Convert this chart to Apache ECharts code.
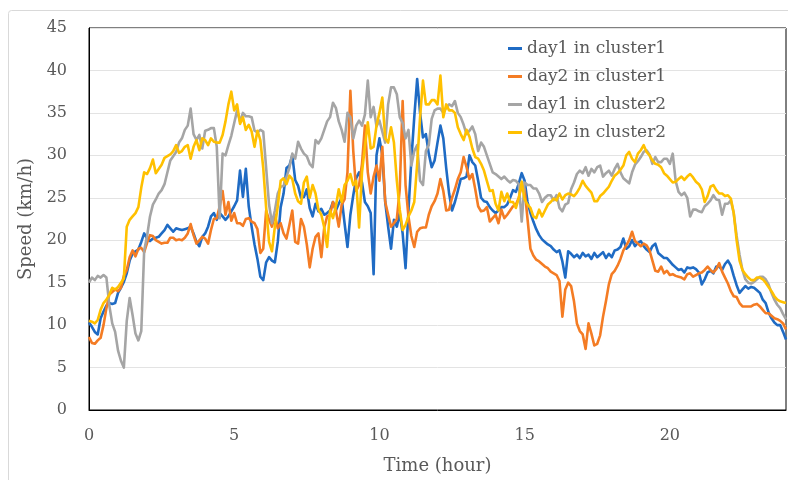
<!DOCTYPE html>
<html>
<head>
<meta charset="utf-8">
<script src="https://cdn.jsdelivr.net/npm/echarts@6/dist/echarts.min.js"></script>
<style>
  html, body { margin: 0; padding: 0; background: #fff; }
  #chart { width: 788px; height: 480px; }
</style>
</head>
<body>
<div id="chart"></div>
<script>
// Sampling step of the speed records, in hours (one reading every 6 minutes)
const STEP_HOURS = 0.1;

const seriesNames = ['day1 in cluster1', 'day2 in cluster1', 'day1 in cluster2', 'day2 in cluster2'];
const xTicks = [0, 5, 10, 15, 20];
const yTicks = [0, 5, 10, 15, 20, 25, 30, 35, 40, 45];

// Speeds in km/h, one row per hour (10 readings), last value at 24:00
const day1Cluster1 = [
  10.3, 9.8, 9.2, 8.9, 10.8, 11.6, 12.3, 12.6, 12.5, 12.6,
  13.8, 14.4, 15.1, 16.1, 17.6, 18.4, 18.7, 18.9, 19.8, 20.8,
  20.2, 19.9, 20.2, 20.3, 20.4, 20.8, 21.2, 21.8, 21.4, 21.0,
  21.4, 21.3, 21.2, 21.3, 21.4, 21.6, 20.8, 19.8, 19.3, 20.4,
  20.8, 21.6, 22.8, 23.2, 22.4, 23.2, 22.8, 22.4, 22.8, 23.4,
  24.0, 24.7, 28.2, 25.1, 28.4, 24.0, 21.6, 19.5, 17.8, 15.7,
  15.3, 17.4, 18.0, 17.6, 17.4, 19.8, 23.9, 25.5, 28.5, 28.8,
  30.0, 27.1, 26.4, 25.0, 25.1, 26.0, 23.8, 22.8, 24.3, 23.4,
  23.7, 23.0, 23.2, 23.5, 24.5, 23.5, 24.3, 25.0, 22.0, 19.2,
  23.0, 25.3, 27.3, 28.0, 26.8, 24.5, 24.0, 23.2, 16.0, 30.0,
  32.0, 30.0, 24.5, 21.6, 19.0, 22.4, 21.6, 23.2, 20.8, 16.7,
  23.5, 29.5, 34.5, 39.0, 35.0, 32.1, 32.5, 30.2, 28.6, 29.4,
  31.5, 33.5, 32.0, 28.5, 25.5, 23.5, 24.5, 25.8, 27.2, 27.3,
  27.5, 30.0, 29.2, 28.8, 27.0, 25.0, 24.6, 24.5, 23.9, 23.5,
  23.2, 23.5, 23.9, 23.9, 24.2, 25.0, 25.9, 25.7, 26.7, 27.9,
  27.0, 24.5, 23.2, 22.2, 21.3, 20.6, 20.1, 19.8, 19.5, 19.3,
  18.9, 18.6, 18.8, 17.5, 15.6, 18.7, 18.4, 18.0, 18.3, 17.9,
  18.5, 18.1, 18.3, 17.8, 18.5, 18.0, 18.3, 18.6, 17.9, 18.4,
  18.0, 18.8, 18.9, 19.2, 20.2, 19.0, 19.3, 20.0, 19.3, 19.7,
  19.9, 19.3, 18.9, 18.6, 19.3, 19.6, 18.5, 18.2, 17.9, 17.9,
  17.5, 17.1, 16.8, 16.5, 16.6, 16.2, 16.8, 16.7, 16.8, 16.6,
  16.2, 14.8, 15.4, 16.2, 16.4, 16.1, 16.9, 16.9, 16.5, 17.2,
  17.6, 17.0, 15.8, 14.7, 13.8, 14.2, 14.6, 14.3, 14.5, 14.4,
  14.1, 13.8, 13.0, 12.6, 11.5, 10.8, 10.3, 10.0, 10.0, 9.2,
  8.3
];

const day2Cluster1 = [
  8.6, 7.9, 7.8, 8.2, 8.5, 10.0, 12.0, 13.6, 13.9, 14.2,
  14.0, 14.4, 15.8, 16.5, 18.0, 18.8, 18.1, 19.0, 19.1, 18.6,
  19.7, 20.6, 20.5, 20.0, 19.8, 19.6, 19.7, 19.7, 20.3, 20.3,
  20.0, 20.1, 20.0, 20.3, 20.8, 21.9, 20.6, 19.6, 20.0, 20.4,
  20.2, 19.6, 21.2, 22.5, 22.6, 24.0, 25.8, 23.0, 24.5, 22.3,
  23.2, 22.0, 22.0, 21.7, 22.5, 22.6, 22.2, 22.0, 21.3, 18.5,
  19.0, 23.5, 22.4, 21.6, 23.0, 21.4, 22.0, 20.8, 20.2, 21.8,
  23.5, 19.8, 19.6, 22.5, 21.6, 19.5, 16.8, 19.0, 20.4, 20.8,
  18.0, 21.5, 22.8, 23.0, 24.5, 23.5, 21.6, 24.2, 24.8, 28.0,
  37.6, 30.5, 25.8, 26.5, 29.0, 33.5, 28.0, 25.5, 27.5, 28.8,
  27.0, 31.0, 24.5, 23.0, 21.6, 22.0, 22.5, 26.0, 36.4, 26.5,
  22.8, 20.5, 19.2, 21.0, 21.4, 21.5, 21.5, 23.0, 24.0, 24.6,
  25.5, 27.2, 25.8, 23.5, 23.6, 25.0, 26.0, 27.2, 28.0, 29.8,
  28.6, 27.2, 27.8, 26.0, 24.0, 23.4, 23.5, 23.9, 22.2, 22.6,
  23.0, 22.0, 23.6, 22.6, 23.0, 23.5, 24.0, 24.2, 25.0, 26.5,
  26.0, 22.5, 19.0, 18.2, 17.7, 17.5, 17.2, 16.9, 16.7, 16.3,
  16.1, 15.9, 15.2, 11.0, 14.2, 15.0, 14.6, 12.8, 10.2, 9.3,
  8.9, 7.2, 10.2, 9.0, 7.6, 7.8, 8.8, 11.0, 12.8, 14.8,
  16.0, 16.4, 17.0, 17.8, 18.8, 19.4, 20.0, 21.0, 19.9, 19.6,
  19.3, 19.6, 19.4, 18.8, 17.6, 16.4, 16.3, 16.9, 16.1, 16.4,
  15.9, 16.0, 15.8, 15.7, 15.6, 15.4, 16.0, 16.1, 15.7, 15.9,
  16.1, 16.2, 16.5, 16.9, 16.5, 16.2, 16.6, 17.3, 16.3, 15.6,
  14.9, 14.0, 13.4, 13.3, 12.6, 12.2, 12.2, 12.2, 12.2, 12.4,
  12.5, 12.2, 11.8, 11.4, 11.4, 11.1, 10.8, 10.7, 10.5, 10.2,
  9.5
];

const day1Cluster2 = [
  15.0, 15.6, 15.3, 15.8, 15.6, 15.9, 15.6, 12.3, 10.2, 9.2,
  7.0, 5.8, 5.0, 10.5, 13.2, 11.2, 9.0, 8.2, 9.3, 18.8,
  20.5, 22.8, 24.2, 24.8, 25.5, 25.9, 26.6, 28.0, 29.4, 29.9,
  30.4, 31.5, 32.0, 33.0, 33.5, 35.5, 32.5, 31.8, 32.4, 30.8,
  32.9, 33.0, 33.2, 33.2, 31.0, 22.6, 30.2, 30.0, 31.2, 32.3,
  33.8, 35.3, 34.0, 35.0, 34.6, 34.6, 34.5, 32.9, 32.7, 33.0,
  32.8, 28.5, 24.2, 22.0, 23.5, 25.5, 26.3, 26.4, 27.5, 28.5,
  30.2, 29.6, 31.6, 30.8, 30.2, 29.9, 29.0, 28.6, 31.8, 31.4,
  32.0, 33.0, 34.0, 34.5, 36.2, 35.6, 34.0, 33.0, 31.6, 35.0,
  34.5, 32.0, 33.5, 34.1, 33.5, 34.8, 38.8, 34.5, 35.7, 33.4,
  34.1, 32.8, 31.5, 36.0, 38.0, 38.0, 37.2, 34.5, 33.8, 32.0,
  33.0, 28.8, 30.5, 31.2, 27.0, 26.5, 30.5, 31.2, 34.3, 35.3,
  35.5, 35.5, 35.0, 35.6, 36.0, 35.8, 36.4, 35.0, 34.5, 33.6,
  32.5, 32.9, 33.4, 32.5, 30.5, 31.5, 31.0, 30.0, 29.0, 28.0,
  27.8, 27.5, 27.2, 27.5, 27.1, 26.8, 27.1, 27.0, 26.6, 22.2,
  26.8, 26.5, 26.5, 26.1, 26.1, 25.5, 24.5, 25.0, 25.3, 25.3,
  24.7, 25.3, 23.8, 23.4, 24.2, 24.4, 26.0, 26.8, 27.8, 28.2,
  27.9, 28.6, 27.6, 28.4, 28.0, 28.6, 28.8, 27.5, 27.9, 28.2,
  27.6, 28.4, 29.0, 28.0, 27.3, 27.0, 26.7, 28.0, 28.9, 29.3,
  29.8, 30.4, 30.6, 30.1, 29.0, 29.8, 29.2, 29.2, 29.6, 29.6,
  29.0, 30.2, 27.0, 25.7, 25.3, 25.6, 25.0, 22.8, 23.6, 23.6,
  23.4, 23.3, 24.0, 24.3, 24.7, 25.3, 24.8, 24.7, 23.0, 24.3,
  24.3, 24.7, 23.2, 20.5, 18.3, 16.5, 15.4, 15.0, 14.9, 15.1,
  15.4, 15.7, 15.7, 15.4, 14.8, 13.8, 13.0, 12.4, 12.0, 11.3,
  10.7
];

const day2Cluster2 = [
  10.5, 10.4, 10.2, 10.6, 11.8, 12.6, 13.0, 13.6, 14.4, 14.2,
  14.5, 15.0, 15.5, 21.6, 22.4, 22.8, 23.2, 23.9, 26.2, 28.0,
  27.8, 28.5, 29.5, 27.9, 28.4, 28.9, 29.7, 29.9, 30.1, 30.5,
  31.2, 30.3, 30.5, 31.0, 31.2, 29.6, 31.0, 31.8, 30.6, 32.0,
  31.8, 31.2, 32.0, 31.6, 31.5, 31.5, 32.4, 34.0, 36.0, 37.5,
  35.3, 36.0, 33.7, 34.5, 33.0, 33.6, 32.8, 31.0, 32.9, 31.8,
  28.5, 23.8, 19.8, 18.7, 21.6, 24.0, 27.0, 27.3, 26.6, 27.6,
  27.2, 25.5, 24.6, 24.3, 26.8, 27.5, 25.0, 26.5, 25.5, 23.6,
  23.0, 21.5, 19.2, 23.5, 22.6, 24.0, 26.0, 24.5, 26.5, 27.0,
  27.8, 26.5, 27.0, 21.5, 28.0, 31.0, 33.9, 30.8, 31.0, 33.5,
  35.0, 36.8, 32.0, 31.5, 33.3, 31.5, 27.0, 23.6, 21.2, 21.8,
  22.8, 23.5, 24.5, 29.0, 34.5, 38.8, 36.0, 36.0, 36.5, 36.5,
  36.0, 39.4, 34.5, 36.0, 35.3, 35.3, 35.0, 33.3, 32.5, 31.8,
  33.0, 32.2, 30.8, 29.8, 29.6, 29.0, 28.2, 27.0, 25.8, 25.9,
  24.3, 23.5, 25.7, 24.6, 25.5, 24.5, 24.5, 23.8, 25.0, 26.9,
  24.8, 24.2, 23.8, 22.8, 22.6, 23.6, 22.8, 23.5, 24.2, 24.5,
  24.9, 24.7, 25.5, 24.8, 25.3, 25.5, 25.4, 25.2, 25.6, 26.2,
  27.0, 26.4, 26.0, 25.6, 24.6, 24.6, 25.2, 25.5, 25.9, 26.3,
  27.0, 27.6, 27.9, 28.3, 28.8, 30.0, 30.4, 29.6, 29.2, 30.2,
  30.6, 31.2, 30.4, 30.0, 29.4, 29.0, 28.9, 28.6, 27.9, 27.6,
  27.2, 26.8, 26.9, 27.2, 27.5, 27.1, 27.5, 27.8, 27.4, 26.9,
  26.6, 26.0, 24.5, 25.2, 26.3, 26.5, 25.9, 25.5, 25.5, 25.2,
  25.3, 24.9, 23.2, 20.0, 17.6, 16.5, 16.0, 15.6, 15.3, 15.3,
  15.6, 15.6, 15.4, 15.0, 14.5, 14.0, 13.4, 13.0, 12.8, 12.7,
  12.6
];

const seriesValues = [day1Cluster1, day2Cluster1, day1Cluster2, day2Cluster2];
const seriesColors = ['#1F6BC4', '#F47C24', '#A5A5A5', '#FFC000'];

const textColor = '#595959';
const fontFamily = '"DejaVu Serif", "Liberation Serif", serif';

const toPoints = values => values.map((v, i) => [+(i * STEP_HOURS).toFixed(1), v]);

const chart = echarts.init(document.getElementById('chart'), null, { renderer: 'canvas' });

chart.setOption({
  animation: false,
  backgroundColor: '#fff',
  graphic: [{
    type: 'rect',
    shape: { x: 8.5, y: 10.5, width: 800, height: 500, r: 3 },
    style: { fill: 'none', stroke: '#d9d9d9', lineWidth: 1 },
    silent: true,
    z: -10
  }],
  grid: {
    left: 89, right: 2, top: 28, bottom: 69,
    show: true, borderColor: '#000', borderWidth: 1, backgroundColor: 'transparent'
  },
  legend: {
    orient: 'vertical',
    left: 503, top: 35,
    itemWidth: 14, itemHeight: 3, itemGap: 11,
    icon: 'rect',
    textStyle: { color: textColor, fontFamily, fontSize: 17 },
    data: seriesNames
  },
  xAxis: {
    type: 'value',
    min: 0, max: 24, interval: 5,
    name: 'Time (hour)',
    nameLocation: 'middle',
    nameGap: 47,
    nameTextStyle: { color: textColor, fontFamily, fontSize: 18 },
    axisLine: { show: true, lineStyle: { color: '#000', width: 1 } },
    axisTick: { show: false },
    splitLine: { show: false },
    axisLabel: {
      color: textColor, fontFamily, fontSize: 16, margin: 18,
      showMaxLabel: false,
      formatter: v => (xTicks.includes(v) ? String(v) : '')
    }
  },
  yAxis: {
    type: 'value',
    min: 0, max: 45, interval: 5,
    name: 'Speed (km/h)',
    nameLocation: 'middle',
    nameGap: 40,
    nameRotate: 90,
    nameTextStyle: { color: textColor, fontFamily, fontSize: 18 },
    axisLine: { show: true, lineStyle: { color: '#000', width: 1 } },
    axisTick: { show: false },
    splitLine: { show: true, lineStyle: { color: '#e3e3e3', width: 1 } },
    axisLabel: {
      color: textColor, fontFamily, fontSize: 16, margin: 22,
      formatter: v => (yTicks.includes(v) ? String(v) : '')
    }
  },
  series: seriesNames.map((name, k) => ({
    name,
    type: 'line',
    data: toPoints(seriesValues[k]),
    showSymbol: false,
    symbol: 'none',
    lineStyle: { color: seriesColors[k], width: 2.6, join: 'round' },
    itemStyle: { color: seriesColors[k] },
    z: 2 + k
  }))
});
</script>
</body>
</html>
